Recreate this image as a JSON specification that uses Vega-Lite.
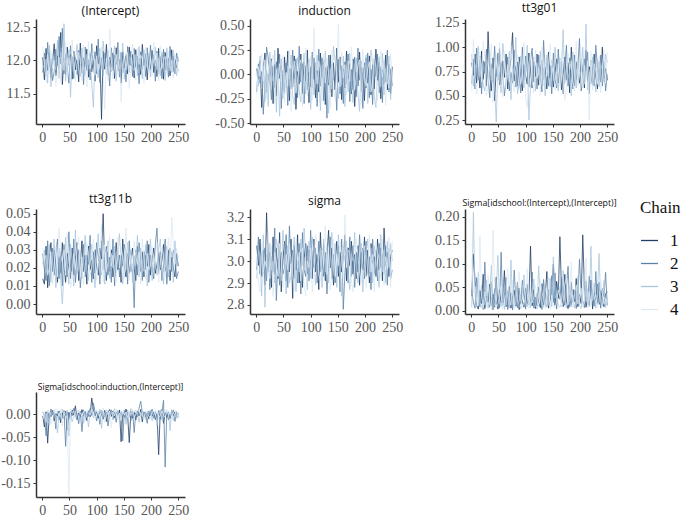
{
"$schema":"https://vega.github.io/schema/vega-lite/v6.json",
"padding":{"left":0,"top":1,"right":0,"bottom":0},
"config":{"view":{"stroke":null},
"axis":{"grid":false,"title":null,"domainColor":"#333333","domainWidth":1.5,"tickColor":"#333333","tickSize":3,"tickWidth":1,"labelFont":"Liberation Serif","labelFontSize":14,"labelColor":"#555555","labelPadding":3,"labelExpr":"replace(datum.label, '−', '-')"},
"title":{"font":"Open Sans","fontSize":12,"fontWeight":"normal","color":"#111111","anchor":"middle","offset":1},
"legend":{"orient":"none","legendX":604,"legendY":181,"padding":0,"titleFont":"Liberation Serif","titleFontSize":17,"titleFontWeight":"normal","titleColor":"#111111","titlePadding":14,"labelFont":"Liberation Serif","labelFontSize":17,"labelColor":"#111111","labelOffset":11,"symbolType":"stroke","symbolSize":289,"symbolStrokeWidth":1.3,"rowPadding":5}},
"data":{"values":[
{"i":1,"k":[1,2,3,4],"a":[12.05,11.82,11.93,12.21],"b":[0.06,-0.18,0.02,-0.21],"c":[0.84,0.62,0.93,0.55],"d":[0.014,0.028,0.022,0.031],"e":[3.07,2.96,2.92,3.01],"f":[0.031,0.045,0.008,0.112],"g":[-0.004,0.003,0.006,-0.012]},
{"i":4,"k":[1,2,3,4],"a":[11.71,12.11,11.88,11.97],"b":[-0.05,0.11,-0.12,0.08],"c":[0.71,0.88,0.6,1.08],"d":[0.011,0.019,0.03,0.024],"e":[2.98,3.11,3.05,2.9],"f":[0.121,0.018,0.21,0.04],"g":[-0.028,0.001,-0.009,0.004]},
{"i":7,"k":[1,2,3,4],"a":[12.18,11.76,12.02,11.68],"b":[0.14,-0.09,0.19,-0.02],"c":[0.93,0.57,0.78,0.69],"d":[0.032,0.013,0.017,0.027],"e":[3.1,2.94,3.02,2.86],"f":[0.065,0.006,0.034,0.052],"g":[0.005,-0.047,0.002,-0.018]},
{"i":10,"k":[1,2,3,4],"a":[11.85,12.27,11.66,12.09],"b":[-0.34,0.03,-0.15,0.21],"c":[0.63,0.99,0.85,0.52],"d":[0.009,0.035,0.021,0.016],"e":[2.93,3.04,2.84,3.08],"f":[0.012,0.071,0.009,0.02],"g":[-0.063,0.006,-0.011,0.009]},
{"i":13,"k":[1,2,3,4],"a":[12.12,11.9,12.23,11.8],"b":[0.05,-0.41,0.1,-0.07],"c":[0.79,0.66,1.01,0.74],"d":[0.026,0.01,0.033,0.02],"e":[3.05,2.99,3.12,2.95],"f":[0.004,0.038,0.082,0.011],"g":[0.002,-0.008,-0.024,0.008]},
{"i":16,"k":[1,2,3,4],"a":[11.74,12.03,11.61,12.15],"b":[0.22,-0.11,-0.28,0.15],"c":[0.58,0.91,0.7,0.95],"d":[0.034,0.021,0.012,0.029],"e":[2.89,3.06,2.79,3.0],"f":[0.043,0.009,0.015,0.16],"g":[-0.006,0.011,-0.003,-0.021]},
{"i":19,"k":[1,2,3,4],"a":[11.98,11.7,12.08,11.89],"b":[-0.19,0.28,0.04,-0.25],"c":[0.96,0.52,0.82,0.64],"d":[0.018,0.031,0.024,0.011],"e":[3.22,2.91,3.03,2.97],"f":[0.016,0.054,0.007,0.03],"g":[0.008,-0.002,0.004,-0.01]},
{"i":22,"k":[1,2,3,4],"a":[12.25,11.83,11.95,12.0],"b":[0.01,0.17,-0.33,0.09],"c":[0.67,0.86,0.61,1.06],"d":[0.03,0.016,0.036,0.022],"e":[2.97,3.09,2.95,3.13],"f":[0.078,0.003,0.025,0.006],"g":[-0.015,0.004,0.009,0.001]},
{"i":25,"k":[1,2,3,4],"a":[11.77,12.17,11.86,11.62],"b":[-0.12,-0.02,0.23,-0.16],"c":[0.85,0.73,0.55,0.9],"d":[0.022,0.027,0.009,0.032],"e":[3.04,2.87,3.08,2.92],"f":[0.005,0.104,0.013,0.041],"g":[0.001,-0.032,-0.006,0.012]},
{"i":28,"k":[1,2,3,4],"a":[12.07,11.92,12.3,11.81],"b":[0.16,-0.26,0.0,0.12],"c":[0.6,0.98,0.77,0.5],"d":[0.012,0.036,0.025,0.015],"e":[2.88,3.02,2.96,3.07],"f":[0.032,0.017,0.066,0.009],"g":[-0.004,0.006,-0.041,0.005]},
{"i":31,"k":[1,2,3,4],"a":[11.88,12.36,11.73,12.05],"b":[-0.3,0.08,-0.07,0.2],"c":[1.16,0.69,0.87,0.62],"d":[0.026,0.014,0.031,0.042],"e":[3.11,2.95,3.0,2.84],"f":[0.019,0.039,0.005,0.076],"g":[0.007,-0.013,0.003,-0.005]},
{"i":34,"k":[1,2,3,4],"a":[12.42,11.95,12.12,11.67],"b":[0.1,-0.14,0.25,-0.31],"c":[0.72,0.48,0.95,0.8],"d":[0.017,0.029,0.013,0.027],"e":[2.94,3.15,2.9,3.04],"f":[0.057,0.008,0.03,0.014],"g":[-0.019,0.002,-0.007,0.01]},
{"i":37,"k":[1,2,3,4],"a":[11.64,12.48,11.9,12.19],"b":[-0.22,0.13,-0.39,0.05],"c":[0.55,0.83,0.66,1.03],"d":[0.034,0.01,0.0,0.023],"e":[3.06,2.82,3.1,2.98],"f":[0.011,0.062,0.097,0.003],"g":[0.003,-0.009,0.011,-0.026]},
{"i":40,"k":[1,2,3,4],"a":[12.03,11.8,12.55,11.85],"b":[0.27,-0.06,0.07,-0.18],"c":[0.89,0.64,0.78,0.43],"d":[0.021,0.033,0.018,0.03],"e":[2.92,3.01,3.06,2.93],"f":[0.036,0.002,0.024,0.172],"g":[-0.01,0.008,-0.002,0.004]},
{"i":43,"k":[1,2,3,4],"a":[11.79,12.1,11.69,12.27],"b":[-0.04,0.21,-0.43,0.11],"c":[0.45,1.01,0.59,0.74],"d":[0.012,0.025,0.037,0.016],"e":[3.13,2.89,2.97,3.08],"f":[0.008,0.048,0.01,0.06],"g":[0.006,-0.07,0.001,-0.011]},
{"i":46,"k":[1,2,3,4],"a":[12.2,11.88,12.01,11.75],"b":[0.09,-0.35,0.16,-0.08],"c":[0.78,0.7,0.23,0.92],"d":[0.028,0.015,0.022,0.039],"e":[2.86,3.04,2.91,3.02],"f":[0.072,0.013,0.041,0.007],"g":[-0.035,0.004,0.009,-0.003]},
{"i":49,"k":[1,2,3,4],"a":[11.93,11.66,12.16,12.04],"b":[-0.17,0.04,-0.25,0.2],"c":[0.66,0.94,0.81,0.57],"d":[0.02,0.04,0.011,0.026],"e":[3.0,2.94,3.14,2.88],"f":[0.004,0.027,0.118,0.015],"g":[0.004,-0.012,-0.048,-0.175]},
{"i":52,"k":[1,2,3,4],"a":[12.09,12.22,11.45,11.9],"b":[0.18,-0.2,0.03,-0.29],"c":[0.99,0.61,0.69,1.05],"d":[0.014,0.021,0.033,0.009],"e":[3.09,2.97,3.05,2.93],"f":[0.045,0.006,0.02,0.028],"g":[-0.008,0.007,0.002,0.012]},
{"i":55,"k":[1,2,3,4],"a":[11.72,11.97,12.06,12.31],"b":[-0.09,0.12,-0.14,0.02],"c":[0.62,0.84,0.53,0.76],"d":[0.031,0.018,0.024,0.014],"e":[2.91,3.12,2.85,3.03],"f":[0.017,0.125,0.009,0.052],"g":[0.009,-0.004,-0.017,0.003]},
{"i":58,"k":[1,2,3,4],"a":[12.14,11.73,11.84,12.02],"b":[0.24,-0.32,0.09,-0.12],"c":[0.86,0.72,1.04,0.49],"d":[0.016,0.036,0.01,0.028],"e":[3.03,2.88,3.07,2.96],"f":[0.024,0.011,0.063,0.004],"g":[-0.002,0.013,-0.005,0.007]},
{"i":61,"k":[1,2,3,4],"a":[11.86,12.05,11.98,11.69],"b":[-0.27,0.06,-0.05,0.26],"c":[0.69,0.5,0.88,0.95],"d":[0.025,0.012,0.041,0.019],"e":[2.95,3.16,2.9,3.08],"f":[0.086,0.032,0.003,0.019],"g":[0.018,-0.006,0.005,-0.009]},
{"i":64,"k":[1,2,3,4],"a":[12.01,11.79,12.24,11.94],"b":[0.06,-0.15,0.2,-0.38],"c":[0.93,0.66,0.75,0.58],"d":[0.034,0.024,0.017,0.03],"e":[3.1,2.99,2.93,3.0],"f":[0.009,0.071,0.022,0.037],"g":[-0.012,0.002,0.008,-0.001]},
{"i":67,"k":[1,2,3,4],"a":[11.68,12.15,11.87,12.12],"b":[-0.13,0.25,-0.22,0.0],"c":[0.57,0.9,0.67,0.82],"d":[0.013,0.03,0.02,0.037],"e":[2.83,3.05,3.01,2.94],"f":[0.014,0.003,0.043,0.09],"g":[0.003,-0.021,0.004,0.01]},
{"i":70,"k":[1,2,3,4],"a":[12.26,11.91,11.76,11.99],"b":[0.19,-0.04,-0.31,0.14],"c":[0.76,0.55,0.96,0.64],"d":[0.022,0.009,0.029,0.015],"e":[3.07,2.92,3.11,2.87],"f":[0.052,0.018,0.006,0.027],"g":[-0.007,0.006,-0.014,0.002]},
{"i":73,"k":[1,2,3,4],"a":[11.81,12.08,12.19,11.7],"b":[-0.36,0.16,0.07,-0.19],"c":[0.88,0.74,0.46,1.02],"d":[0.035,0.02,0.014,0.026],"e":[2.96,3.03,2.86,3.09],"f":[0.006,0.039,0.108,0.012],"g":[0.01,-0.038,0.001,-0.004]},
{"i":76,"k":[1,2,3,4],"a":[12.04,11.64,11.95,12.23],"b":[0.03,-0.24,0.18,-0.06],"c":[1.15,0.63,0.81,0.7],"d":[0.018,0.033,0.024,0.011],"e":[3.12,2.9,3.0,2.97],"f":[0.028,0.002,0.015,0.065],"g":[-0.003,0.009,-0.02,0.006]},
{"i":79,"k":[1,2,3,4],"a":[11.9,12.2,11.78,11.96],"b":[-0.1,0.29,-0.17,0.1],"c":[0.65,0.97,0.72,0.54],"d":[0.027,0.015,0.038,0.021],"e":[2.9,3.08,2.95,3.04],"f":[0.044,0.087,0.01,0.003],"g":[0.005,-0.01,0.007,-0.016]},
{"i":82,"k":[1,2,3,4],"a":[12.17,11.85,12.09,11.6],"b":[0.21,-0.08,-0.28,0.15],"c":[0.8,0.59,1.1,0.77],"d":[0.011,0.027,0.019,0.034],"e":[3.04,2.85,3.1,2.91],"f":[0.01,0.025,0.046,0.019],"g":[-0.014,0.003,0.002,0.009]},
{"i":85,"k":[1,2,3,4],"a":[11.75,12.01,11.94,12.28],"b":[-0.2,0.11,0.02,-0.33],"c":[0.6,0.85,0.52,0.92],"d":[0.032,0.022,0.013,0.028],"e":[2.88,3.13,2.98,3.06],"f":[0.061,0.007,0.029,0.052],"g":[0.007,-0.005,-0.028,0.004]},
{"i":88,"k":[1,2,3,4],"a":[12.1,11.71,12.13,11.87],"b":[0.13,-0.3,0.22,-0.03],"c":[0.9,0.7,0.64,0.83],"d":[0.019,0.038,0.026,0.016],"e":[3.01,2.96,3.15,2.89],"f":[0.003,0.049,0.012,0.084],"g":[-0.006,0.012,0.006,-0.002]},
{"i":91,"k":[1,2,3,4],"a":[11.83,12.25,11.65,12.06],"b":[-0.07,0.09,-0.2,0.27],"c":[0.68,0.53,0.91,0.62],"d":[0.024,0.012,0.033,0.02],"e":[3.08,2.93,3.02,2.84],"f":[0.035,0.016,0.005,0.023],"g":[0.035,-0.003,0.009,0.011]},
{"i":94,"k":[1,2,3,4],"a":[12.0,11.92,11.3,12.15],"b":[0.25,-0.16,0.05,-0.22],"c":[0.55,1.0,0.79,0.71],"d":[0.014,0.029,0.021,0.036],"e":[2.94,3.07,2.87,3.0],"f":[0.02,0.065,0.038,0.008],"g":[0.01,0.024,-0.008,0.003]},
{"i":97,"k":[1,2,3,4],"a":[11.69,12.13,12.02,11.78],"b":[-0.29,0.02,0.16,-0.11],"c":[0.82,0.66,0.58,1.05],"d":[0.03,0.017,0.009,0.025],"e":[3.05,2.91,3.09,2.97],"f":[0.008,0.031,0.077,0.015],"g":[-0.004,0.006,0.002,-0.012]},
{"i":100,"k":[1,2,3,4],"a":[12.22,11.8,11.89,12.07],"b":[0.08,-0.13,-0.36,0.19],"c":[0.71,0.91,0.76,0.47],"d":[0.021,0.034,0.028,0.013],"e":[2.99,3.14,2.92,3.06],"f":[0.048,0.004,0.021,0.032],"g":[0.004,-0.015,0.008,0.001]},
{"i":103,"k":[1,2,3,4],"a":[11.95,12.32,11.74,11.86],"b":[-0.14,0.23,0.01,-0.26],"c":[0.62,0.75,1.02,0.38],"d":[0.016,0.026,0.039,0.022],"e":[2.92,3.0,3.11,2.86],"f":[0.015,0.057,0.009,0.09],"g":[-0.009,0.003,-0.003,0.007]},
{"i":106,"k":[1,2,3,4],"a":[12.06,11.67,12.18,11.93],"b":[0.17,-0.05,-0.21,0.48],"c":[0.94,0.59,0.25,0.84],"d":[0.031,0.011,0.02,0.029],"e":[3.1,2.97,3.04,2.93],"f":[0.026,0.012,0.042,0.006],"g":[0.006,-0.022,0.011,-0.005]},
{"i":109,"k":[1,2,3,4],"a":[11.12,12.04,11.9,12.2],"b":[-0.24,0.12,-0.08,0.06],"c":[0.77,0.86,0.6,0.93],"d":[0.025,0.035,0.016,0.044],"e":[2.95,3.06,2.89,3.12],"f":[0.138,0.02,0.007,0.05],"g":[0.002,0.008,-0.031,0.004]},
{"i":112,"k":[1,2,3,4],"a":[12.14,11.77,12.29,11.84],"b":[0.04,-0.33,0.2,-0.1],"c":[0.58,0.99,0.73,0.66],"d":[0.05,0.019,0.027,0.012],"e":[3.03,2.9,2.98,3.08],"f":[0.011,0.083,0.024,0.017],"g":[-0.011,0.001,0.005,0.013]},
{"i":115,"k":[1,2,3,4],"a":[11.87,12.11,11.96,11.27],"b":[-0.18,0.26,-0.02,0.14],"c":[0.85,0.64,0.9,0.53],"d":[0.02,0.028,0.011,0.033],"e":[2.87,3.09,3.01,2.94],"f":[0.045,0.006,0.068,0.028],"g":[0.008,-0.007,0.001,-0.018]},
{"i":118,"k":[1,2,3,4],"a":[12.24,11.91,11.8,12.03],"b":[0.22,-0.12,-0.37,0.03],"c":[0.7,0.8,0.55,0.97],"d":[0.013,0.032,0.024,0.018],"e":[3.13,2.95,3.06,2.91],"f":[0.005,0.029,0.012,0.056],"g":[-0.016,0.004,0.009,0.002]},
{"i":121,"k":[1,2,3,4],"a":[11.78,12.0,12.15,11.7],"b":[-0.03,0.17,0.1,-0.28],"c":[0.93,0.57,0.84,0.68],"d":[0.029,0.016,0.035,0.023],"e":[2.96,3.02,2.88,3.05],"f":[0.037,0.011,0.004,0.022],"g":[0.003,-0.026,0.006,-0.001]},
{"i":124,"k":[1,2,3,4],"a":[12.05,11.62,11.97,12.47],"b":[0.15,-0.27,-0.13,0.21],"c":[0.61,0.92,0.71,0.79],"d":[0.018,0.026,0.014,0.038],"e":[3.08,2.93,3.1,2.99],"f":[0.019,0.051,0.096,0.009],"g":[0.01,0.003,-0.01,0.007]},
{"i":127,"k":[1,2,3,4],"a":[11.9,12.19,11.83,12.01],"b":[-0.31,0.07,0.24,-0.09],"c":[0.76,0.68,0.96,0.51],"d":[0.03,0.012,0.028,0.021],"e":[2.91,3.04,2.95,3.16],"f":[0.007,0.023,0.03,0.067],"g":[-0.005,0.009,0.004,-0.03]},
{"i":130,"k":[1,2,3,4],"a":[12.11,11.85,12.07,11.72],"b":[0.09,-0.45,-0.06,0.17],"c":[0.87,0.54,0.65,1.0],"d":[0.015,0.036,0.02,0.027],"e":[3.02,2.85,3.07,2.94],"f":[0.058,0.003,0.017,0.04],"g":[0.007,-0.012,0.002,0.005]},
{"i":133,"k":[1,2,3,4],"a":[11.73,12.08,12.22,11.91],"b":[-0.11,0.2,-0.4,0.01],"c":[0.66,1.07,0.78,0.6],"d":[0.023,0.01,0.032,0.016],"e":[3.14,2.98,2.9,3.05],"f":[0.013,0.067,0.008,0.026],"g":[-0.008,0.004,0.012,-0.004]},
{"i":136,"k":[1,2,3,4],"a":[12.19,11.94,11.69,12.09],"b":[0.2,-0.19,0.06,-0.35],"c":[0.79,0.72,0.5,0.89],"d":[0.034,0.025,0.018,0.012],"e":[2.97,3.11,3.0,2.87],"f":[0.031,0.014,0.05,0.005],"g":[0.005,-0.018,-0.002,0.011]},
{"i":139,"k":[1,2,3,4],"a":[11.84,12.27,12.0,11.79],"b":[-0.23,0.11,-0.15,0.25],"c":[0.57,0.84,0.92,0.7],"d":[0.019,0.031,0.026,0.037],"e":[3.06,2.92,3.13,2.95],"f":[0.084,0.009,0.022,0.016],"g":[-0.003,0.006,0.008,-0.009]},
{"i":142,"k":[1,2,3,4],"a":[12.02,11.75,11.88,12.16],"b":[0.12,-0.06,0.29,-0.17],"c":[0.95,0.6,0.7,0.82],"d":[0.027,0.015,0.039,0.02],"e":[2.89,3.03,2.96,3.1],"f":[0.006,0.046,0.012,0.073],"g":[0.009,-0.004,-0.016,0.002]},
{"i":145,"k":[1,2,3,4],"a":[11.66,12.12,11.93,11.38],"b":[-0.16,-0.02,0.14,-0.24],"c":[0.68,0.81,0.59,1.03],"d":[0.012,0.027,0.022,0.031],"e":[3.0,2.9,3.08,2.93],"f":[0.022,0.031,0.07,0.004],"g":[-0.06,0.003,0.007,-0.014]},
{"i":148,"k":[1,2,3,4],"a":[12.13,11.82,12.26,11.95],"b":[0.27,-0.37,0.0,0.08],"c":[0.81,0.52,0.87,0.73],"d":[0.036,0.021,0.011,0.026],"e":[3.09,2.95,2.88,3.03],"f":[0.042,0.075,0.009,0.033],"g":[0.004,-0.058,0.001,0.006]},
{"i":151,"k":[1,2,3,4],"a":[11.89,12.03,11.72,12.04],"b":[-0.08,0.16,-0.25,0.52],"c":[0.59,0.94,0.66,0.8],"d":[0.02,0.033,0.028,0.014],"e":[2.93,3.07,3.12,2.98],"f":[0.1,0.018,0.115,0.012],"g":[-0.007,0.008,0.003,-0.002]},
{"i":154,"k":[1,2,3,4],"a":[12.07,11.68,12.1,11.86],"b":[0.18,-0.2,0.05,-0.13],"c":[0.74,0.67,1.0,0.56],"d":[0.015,0.029,0.019,0.042],"e":[3.04,2.86,2.97,3.09],"f":[0.012,0.081,0.027,0.006],"g":[0.011,-0.01,-0.022,0.004]},
{"i":157,"k":[1,2,3,4],"a":[11.8,12.21,11.99,12.12],"b":[-0.26,0.09,-0.11,0.23],"c":[0.88,0.58,0.74,0.65],"d":[0.028,0.011,0.034,0.023],"e":[2.95,3.1,2.84,3.02],"f":[0.063,0.004,0.038,0.02],"g":[-0.002,0.005,0.009,-0.008]},
{"i":160,"k":[1,2,3,4],"a":[12.2,11.93,11.82,11.58],"b":[0.06,-0.3,0.19,-0.04],"c":[0.63,0.98,0.55,0.83],"d":[0.017,0.035,0.025,0.013],"e":[3.01,2.78,3.07,2.92],"f":[0.027,0.059,0.011,0.045],"g":[-0.062,0.002,-0.005,0.007]},
{"i":163,"k":[1,2,3,4],"a":[11.92,12.14,12.05,11.88],"b":[-0.14,0.13,-0.33,0.1],"c":[0.79,0.7,0.89,0.6],"d":[0.024,0.018,0.03,0.027],"e":[3.12,2.94,3.0,3.21],"f":[0.158,0.024,0.008,0.031],"g":[0.006,-0.014,0.012,-0.003]},
{"i":166,"k":[1,2,3,4],"a":[12.09,11.76,11.9,12.25],"b":[0.24,-0.1,0.03,-0.21],"c":[0.56,0.85,0.73,0.97],"d":[0.031,0.022,0.012,0.019],"e":[2.91,3.05,3.09,2.97],"f":[0.04,0.071,0.016,0.008],"g":[-0.009,0.007,-0.001,0.01]},
{"i":169,"k":[1,2,3,4],"a":[11.74,12.18,11.85,12.0],"b":[-0.05,0.21,-0.18,0.14],"c":[0.72,0.52,1.18,0.68],"d":[0.02,-0.002,0.027,0.035],"e":[3.06,2.9,2.94,3.05],"f":[0.009,0.035,0.086,0.018],"g":[0.004,-0.04,0.006,-0.006]},
{"i":172,"k":[1,2,3,4],"a":[12.16,11.9,12.09,11.7],"b":[0.11,-0.28,0.22,-0.07],"c":[0.9,0.78,0.63,0.45],"d":[0.013,0.03,0.021,0.026],"e":[2.98,3.11,2.87,3.04],"f":[0.078,0.012,0.03,0.056],"g":[-0.013,0.003,0.008,-0.001]},
{"i":175,"k":[1,2,3,4],"a":[11.86,12.07,11.77,12.18],"b":[-0.2,0.05,-0.12,0.28],"c":[0.66,1.02,0.8,0.58],"d":[0.032,0.016,0.038,0.022],"e":[3.09,2.93,3.03,2.91],"f":[0.021,0.049,0.006,0.07],"g":[0.007,-0.006,0.002,0.004]},
{"i":178,"k":[1,2,3,4],"a":[12.03,11.65,12.21,11.94],"b":[0.16,-0.16,-0.29,0.04],"c":[0.84,0.6,0.71,0.93],"d":[0.024,0.034,0.015,0.029],"e":[2.94,3.07,3.0,2.86],"f":[0.005,0.095,0.021,0.013],"g":[-0.004,0.012,-0.018,0.009]},
{"i":181,"k":[1,2,3,4],"a":[11.79,12.13,11.92,12.08],"b":[-0.33,0.18,0.08,-0.16],"c":[0.53,0.89,0.67,0.77],"d":[0.018,0.025,0.031,0.011],"e":[3.03,2.88,3.13,2.99],"f":[0.033,0.008,0.052,0.024],"g":[0.01,0.028,0.004,-0.005]},
{"i":184,"k":[1,2,3,4],"a":[12.24,11.87,11.73,12.02],"b":[0.02,-0.23,0.17,-0.02],"c":[1.0,0.73,0.5,0.86],"d":[0.029,0.013,0.022,0.036],"e":[2.92,3.04,2.96,3.1],"f":[0.012,0.061,0.009,0.104],"g":[-0.017,0.002,0.007,0.003]},
{"i":187,"k":[1,2,3,4],"a":[11.93,12.02,12.16,11.66],"b":[-0.12,0.27,-0.2,0.09],"c":[0.71,0.57,0.95,0.64],"d":[0.015,0.029,0.018,0.025],"e":[3.07,2.95,2.9,3.02],"f":[0.046,0.017,0.033,0.007],"g":[0.005,-0.008,0.001,-0.011]},
{"i":190,"k":[1,2,3,4],"a":[12.1,11.76,11.98,12.2],"b":[0.23,-0.06,-0.38,0.15],"c":[0.6,0.92,0.79,0.55],"d":[0.027,0.019,0.033,0.014],"e":[2.89,3.12,3.01,2.95],"f":[0.02,0.044,0.007,0.038],"g":[-0.006,0.004,-0.012,0.008]},
{"i":193,"k":[1,2,3,4],"a":[11.71,12.19,11.89,11.97],"b":[-0.18,0.07,0.14,-0.3],"c":[0.85,0.66,0.58,1.06],"d":[0.021,0.035,0.01,0.028],"e":[3.04,2.97,3.08,2.9],"f":[0.069,0.005,0.018,0.055],"g":[0.003,-0.02,0.006,0.001]},
{"i":196,"k":[1,2,3,4],"a":[12.06,11.84,12.11,11.81],"b":[0.07,-0.35,0.02,0.26],"c":[0.7,0.8,0.87,0.6],"d":[0.033,0.012,0.024,0.019],"e":[2.96,3.06,2.86,3.05],"f":[0.009,0.028,0.073,0.015],"g":[-0.01,0.007,0.002,-0.004]},
{"i":199,"k":[1,2,3,4],"a":[11.87,12.23,11.75,12.04],"b":[-0.27,0.12,-0.09,-0.02],"c":[0.63,1.09,0.69,0.76],"d":[0.016,0.027,0.036,0.021],"e":[3.11,2.92,2.99,3.07],"f":[0.035,0.11,0.012,0.026],"g":[0.006,-0.003,0.009,-0.009]},
{"i":202,"k":[1,2,3,4],"a":[12.15,11.9,12.01,11.77],"b":[0.17,-0.14,0.2,-0.12],"c":[0.88,0.55,0.75,0.94],"d":[0.025,0.02,0.013,0.032],"e":[2.93,3.09,3.04,2.88],"f":[0.016,0.039,0.005,0.048],"g":[-0.005,0.011,-0.015,0.004]},
{"i":205,"k":[1,2,3,4],"a":[11.82,12.09,11.96,12.27],"b":[-0.09,0.22,-0.3,0.06],"c":[0.74,0.64,1.0,0.58],"d":[0.031,0.014,0.027,0.02],"e":[3.05,2.94,3.1,2.97],"f":[0.162,0.022,0.036,0.009],"g":[0.004,-0.009,0.001,0.008]},
{"i":208,"k":[1,2,3,4],"a":[12.0,11.69,12.2,11.91],"b":[0.19,-0.24,-0.05,0.13],"c":[0.58,0.88,0.62,0.81],"d":[0.017,0.033,0.022,0.027],"e":[2.9,3.02,2.93,3.12],"f":[0.051,0.007,0.084,0.018],"g":[-0.012,0.003,0.007,-0.002]},
{"i":211,"k":[1,2,3,4],"a":[11.76,12.14,11.86,12.11],"b":[-0.21,0.05,0.25,-0.18],"c":[0.97,0.7,1.24,0.67],"d":[0.022,0.042,0.016,0.034],"e":[3.08,2.87,3.06,2.95],"f":[0.008,0.064,0.02,0.113],"g":[0.002,-0.006,-0.025,0.005]},
{"i":214,"k":[1,2,3,4],"a":[12.18,11.8,12.03,11.69],"b":[0.1,-0.31,0.11,-0.06],"c":[0.65,0.95,0.56,0.86],"d":[0.028,0.017,0.03,0.012],"e":[2.99,3.1,2.9,3.03],"f":[0.029,0.014,0.047,0.006],"g":[-0.088,0.008,0.003,-0.007]},
{"i":217,"k":[1,2,3,4],"a":[11.89,12.06,11.77,12.22],"b":[-0.15,0.16,-0.23,0.2],"c":[0.8,0.52,0.73,0.25],"d":[0.019,0.029,0.036,0.023],"e":[3.02,2.94,3.07,2.86],"f":[0.012,0.074,0.009,0.041],"g":[0.006,-0.011,0.009,-0.003]},
{"i":220,"k":[1,2,3,4],"a":[12.09,11.73,12.13,11.88],"b":[0.26,-0.02,-0.34,0.07],"c":[0.71,0.87,0.63,0.96],"d":[0.024,0.013,0.02,0.031],"e":[2.93,3.05,3.0,3.09],"f":[0.066,0.025,0.138,0.011],"g":[0.01,0.004,-0.013,0.008]},
{"i":223,"k":[1,2,3,4],"a":[11.72,12.17,11.98,12.01],"b":[-0.06,0.21,0.04,-0.27],"c":[0.61,0.78,0.9,0.56],"d":[0.033,0.021,0.011,0.026],"e":[3.1,2.91,2.96,3.04],"f":[0.004,0.047,0.022,0.058],"g":[-0.02,0.03,0.005,-0.004]},
{"i":226,"k":[1,2,3,4],"a":[12.12,11.86,11.7,12.06],"b":[0.13,-0.19,0.18,-0.11],"c":[0.93,0.6,0.68,0.83],"d":[0.018,0.036,0.027,0.015],"e":[2.96,3.08,2.88,3.01],"f":[0.039,0.01,0.059,0.024],"g":[0.003,-0.115,0.007,-0.006]},
{"i":229,"k":[1,2,3,4],"a":[11.85,12.02,12.19,11.8],"b":[-0.25,0.08,-0.13,0.24],"c":[0.7,1.02,0.54,0.75],"d":[0.021,0.011,0.032,0.024],"e":[3.06,2.97,3.12,2.92],"f":[0.023,0.084,0.006,0.035],"g":[-0.007,0.005,0.002,0.011]},
{"i":232,"k":[1,2,3,4],"a":[12.04,11.75,11.9,12.14],"b":[0.05,-0.29,0.22,-0.03],"c":[0.57,0.79,0.87,0.62],"d":[0.03,0.024,0.015,0.037],"e":[2.91,3.03,2.95,3.1],"f":[0.057,0.016,0.033,0.008],"g":[0.004,-0.013,0.006,-0.002]},
{"i":235,"k":[1,2,3,4],"a":[11.77,12.21,12.05,11.84],"b":[-0.1,0.14,-0.21,0.17],"c":[0.85,0.66,0.59,0.91],"d":[0.013,0.031,0.023,0.019],"e":[3.15,2.94,3.05,2.89],"f":[0.014,0.061,0.122,0.019],"g":[-0.01,0.002,-0.036,0.005]},
{"i":238,"k":[1,2,3,4],"a":[12.16,11.91,11.82,12.0],"b":[0.2,-0.08,0.06,-0.32],"c":[0.64,0.92,0.76,0.53],"d":[0.026,0.018,0.029,0.048],"e":[2.98,3.07,2.9,3.02],"f":[0.044,0.006,0.02,0.067],"g":[0.007,-0.004,0.01,-0.008]},
{"i":241,"k":[1,2,3,4],"a":[11.83,12.07,12.15,11.74],"b":[-0.16,0.25,-0.1,0.09],"c":[1.0,0.6,0.84,0.7],"d":[0.02,0.03,0.012,0.034],"e":[3.04,2.89,3.09,2.96],"f":[0.027,0.048,0.011,0.039],"g":[-0.003,0.009,-0.014,0.003]},
{"i":244,"k":[1,2,3,4],"a":[12.02,11.8,11.94,12.09],"b":[0.1,-0.18,0.19,-0.14],"c":[0.68,0.85,0.64,0.97],"d":[0.015,0.027,0.035,0.022],"e":[2.93,3.06,2.97,3.11],"f":[0.009,0.03,0.065,0.014],"g":[0.005,-0.016,0.002,0.008]},
{"i":247,"k":[1,2,3,4],"a":[11.9,12.11,11.77,11.96],"b":[-0.2,0.06,-0.26,0.21],"c":[0.78,0.55,0.93,0.63],"d":[0.028,0.014,0.021,0.031],"e":[3.02,2.92,3.08,2.88],"f":[0.036,0.082,0.007,0.026],"g":[-0.008,0.004,0.006,-0.011]},
{"i":250,"k":[1,2,3,4],"a":[11.85,11.98,12.05,11.81],"b":[0.08,-0.12,0.02,-0.05],"c":[0.66,0.72,0.84,0.95],"d":[0.021,0.018,0.027,0.025],"e":[3.05,2.96,3.0,3.09],"f":[0.041,0.012,0.028,0.018],"g":[0.002,-0.006,-0.009,0.004]}
]},
"transform":[{"flatten":["k","a","b","c","d","e","f","g"]},{"fold":["a","b","c","d","e","f","g"],"as":["p","v"]}],
"columns":3,
"spacing":{"row":48,"column":25},
"resolve":{"scale":{"y":"independent"}},
"concat":[
{"width":149,"height":105,"title":"(Intercept)","transform":[{"filter":"datum.p==='a'"}],"mark":{"type":"line","strokeWidth":0.8,"clip":true},
"encoding":{"x":{"field":"i","type":"quantitative","scale":{"domain":[-11.45,262.45],"nice":false},"axis":{"values":[0,50,100,150,200,250]}},
"y":{"field":"v","type":"quantitative","scale":{"domain":[11.05,12.62],"nice":false,"zero":false},"axis":{"values":[11.5,12,12.5],"format":".1f"}},
"color":{"field":"k","type":"nominal","scale":{"domain":[1,2,3,4],"range":["#1f3f66","#5a81a8","#a9c6de","#dce8f2"]},"legend":{"title":"Chain"}}}},
{"width":149,"height":105,"title":"induction","transform":[{"filter":"datum.p==='b'"}],"mark":{"type":"line","strokeWidth":0.8,"clip":true},
"encoding":{"x":{"field":"i","type":"quantitative","scale":{"domain":[-11.45,262.45],"nice":false},"axis":{"values":[0,50,100,150,200,250]}},
"y":{"field":"v","type":"quantitative","scale":{"domain":[-0.51,0.57],"nice":false,"zero":false},"axis":{"values":[-0.5,-0.25,0,0.25,0.5],"format":".2f"}},
"color":{"field":"k","type":"nominal","scale":{"domain":[1,2,3,4],"range":["#1f3f66","#5a81a8","#a9c6de","#dce8f2"]},"legend":{"title":"Chain"}}}},
{"width":149,"height":105,"title":"tt3g01","transform":[{"filter":"datum.p==='c'"}],"mark":{"type":"line","strokeWidth":0.8,"clip":true},
"encoding":{"x":{"field":"i","type":"quantitative","scale":{"domain":[-11.45,262.45],"nice":false},"axis":{"values":[0,50,100,150,200,250]}},
"y":{"field":"v","type":"quantitative","scale":{"domain":[0.21,1.29],"nice":false,"zero":false},"axis":{"values":[0.25,0.5,0.75,1,1.25],"format":".2f","minExtent":37}},
"color":{"field":"k","type":"nominal","scale":{"domain":[1,2,3,4],"range":["#1f3f66","#5a81a8","#a9c6de","#dce8f2"]},"legend":{"title":"Chain"}}}},
{"width":149,"height":105,"title":"tt3g11b","transform":[{"filter":"datum.p==='d'"}],"mark":{"type":"line","strokeWidth":0.8,"clip":true},
"encoding":{"x":{"field":"i","type":"quantitative","scale":{"domain":[-11.45,262.45],"nice":false},"axis":{"values":[0,50,100,150,200,250]}},
"y":{"field":"v","type":"quantitative","scale":{"domain":[-0.0055,0.0526],"nice":false,"zero":false},"axis":{"values":[0,0.01,0.02,0.03,0.04,0.05],"format":".2f"}},
"color":{"field":"k","type":"nominal","scale":{"domain":[1,2,3,4],"range":["#1f3f66","#5a81a8","#a9c6de","#dce8f2"]},"legend":{"title":"Chain"}}}},
{"width":149,"height":105,"title":"sigma","transform":[{"filter":"datum.p==='e'"}],"mark":{"type":"line","strokeWidth":0.8,"clip":true},
"encoding":{"x":{"field":"i","type":"quantitative","scale":{"domain":[-11.45,262.45],"nice":false},"axis":{"values":[0,50,100,150,200,250]}},
"y":{"field":"v","type":"quantitative","scale":{"domain":[2.759,3.237],"nice":false,"zero":false},"axis":{"values":[2.8,2.9,3.0,3.1,3.2],"format":".1f"}},
"color":{"field":"k","type":"nominal","scale":{"domain":[1,2,3,4],"range":["#1f3f66","#5a81a8","#a9c6de","#dce8f2"]},"legend":{"title":"Chain"}}}},
{"width":149,"height":105,"title":{"text":"Sigma[idschool:(Intercept),(Intercept)]","fontSize":8.8},"transform":[{"filter":"datum.p==='f'"}],"mark":{"type":"line","strokeWidth":0.8,"clip":true},
"encoding":{"x":{"field":"i","type":"quantitative","scale":{"domain":[-11.45,262.45],"nice":false},"axis":{"values":[0,50,100,150,200,250]}},
"y":{"field":"v","type":"quantitative","scale":{"domain":[-0.0065,0.217],"nice":false,"zero":false},"axis":{"values":[0,0.05,0.1,0.15,0.2],"format":".2f","minExtent":37}},
"color":{"field":"k","type":"nominal","scale":{"domain":[1,2,3,4],"range":["#1f3f66","#5a81a8","#a9c6de","#dce8f2"]},"legend":{"title":"Chain"}}}},
{"width":149,"height":105,"title":{"text":"Sigma[idschool:induction,(Intercept)]","fontSize":8.5},"transform":[{"filter":"datum.p==='g'"}],"mark":{"type":"line","strokeWidth":0.8,"clip":true},
"encoding":{"x":{"field":"i","type":"quantitative","scale":{"domain":[-11.45,262.45],"nice":false},"axis":{"values":[0,50,100,150,200,250]}},
"y":{"field":"v","type":"quantitative","scale":{"domain":[-0.18,0.048],"nice":false,"zero":false},"axis":{"values":[-0.15,-0.1,-0.05,0],"format":".2f"}},
"color":{"field":"k","type":"nominal","scale":{"domain":[1,2,3,4],"range":["#1f3f66","#5a81a8","#a9c6de","#dce8f2"]},"legend":{"title":"Chain"}}}}
]
}
